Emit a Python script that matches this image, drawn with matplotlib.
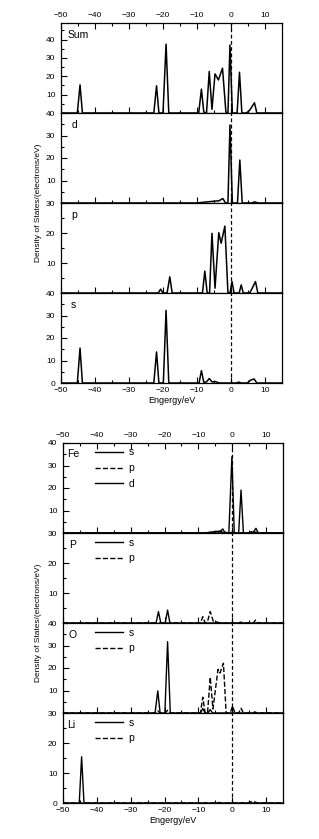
import numpy as np
import matplotlib
matplotlib.use("Agg")
import matplotlib.pyplot as plt
from matplotlib.ticker import MultipleLocator

plt.rcParams['font.family'] = ['Liberation Sans', 'DejaVu Sans']

# ---- data (energy in eV, DOS in electrons/eV) ----
# upper block: total DOS and its s / p / d parts
sum_e = [-50, -45.2, -44.4, -43.7, -22.7, -21.9, -21.2, -20.0, -19.1, -18.3,
         -9.5, -8.7, -8.0, -7.2, -6.4, -5.6, -4.7, -3.7, -2.5, -1.5, -0.9, -0.3,
         0.4, 1.8, 2.5, 3.2, 4.5, 5.5, 6.9, 7.6, 15]
sum_v = [0, 0, 15.3, 0, 0, 14.8, 0, 0, 37.5, 0,
         0, 13.0, 0.5, 0, 22.6, 2.0, 21.3, 18.0, 24.4, 0.5, 0, 37.0,
         0, 0, 22.2, 0, 0, 1.5, 5.6, 0, 0]

d_e = [-50, -10, -7, -5, -3.5, -2.4, -1.6, -0.9, -0.3, 0.4, 1.9, 2.6, 3.3, 6, 7, 8, 15]
d_v = [0, 0, 0.5, 0.8, 1.0, 2.0, 0, 0, 34.7, 0, 0, 19.1, 0, 0, 0.5, 0, 0]

p_e = [-50, -21.4, -20.7, -20.0, -18.8, -18.0, -17.3, -8.4, -7.7, -7.0, -6.3,
       -5.6, -4.7, -3.6, -2.9, -1.8, -0.9, -0.3, 0.3, 0.9, 2.4, 3.0, 3.6,
       5.5, 6.2, 7.2, 7.9, 15]
p_v = [0, 0, 1.3, 0, 0, 5.4, 0, 0, 7.3, 0, 0,
       19.9, 1.6, 20.1, 16.6, 22.3, 0, 0, 3.8, 0, 0, 2.7, 0,
       0, 1.5, 3.8, 0, 0]

s_e = [-50, -45.2, -44.4, -43.7, -22.7, -21.9, -21.2, -19.9, -19.1, -18.3,
       -9.4, -8.7, -8.0, -7.2, -6.4, -5.6, -4.5, -3.5, 1.5, 2.3, 3.0,
       4.8, 5.8, 6.8, 7.6, 15]
s_v = [0, 0, 15.5, 0, 0, 13.8, 0, 0, 32.3, 0,
       0, 5.5, 0.3, 0.5, 2.0, 0.5, 0.6, 0, 0, 0.4, 0,
       0, 1.3, 1.8, 0, 0]

# lower block: partial DOS per element
fe_s_e = [-50, -3, -2, -1, 0.2, 1, 15]
fe_s_v = [0, 0, 0.3, 0, 0.4, 0, 0]
fe_p_e = [-50, -6, -4.5, -3, -1.5, 5, 6.5, 8, 15]
fe_p_v = [0, 0, 0.5, 0.6, 0, 0, 0.5, 0, 0]
fe_d_e = [-50, -8, -6.5, -5, -4, -3.5, -2.8, -2.1, -1.0, -0.1, 0.6, 1.9, 2.6,
          3.3, 5.0, 5.6, 6.2, 7.0, 7.7, 15]
fe_d_v = [0, 0, 0.4, 0.6, 0.8, 0.9, 1.8, 0, 0, 33.9, 0, 0, 19.1,
          0, 0, 0.6, 0.3, 2.1, 0, 0]

p_s_e = [-50, -22.5, -21.8, -21.1, -19.8, -19.1, -18.4, 15]
p_s_v = [0, 0, 3.8, 0, 0, 4.3, 0, 0]
p_p_e = [-50, -9.4, -8.7, -8.0, -7.3, -6.5, -5.6, -4.8, -3.5, 1.8, 2.5, 3.2,
         6.2, 6.9, 7.6, 15]
p_p_v = [0, 0, 2.1, 0, 0.5, 3.8, 0.6, 0.4, 0, 0, 0.3, 0,
         0, 1.0, 0, 0]

o_s_e = [-50, -22.8, -22.0, -21.3, -19.9, -19.1, -18.3, -9.4, -8.7, -8.0,
         -7.2, -6.5, -5.8, 15]
o_s_v = [0, 0, 9.8, 0, 0, 31.7, 0, 0, 2.0, 0,
         0, 1.5, 0, 0]
o_p_e = [-50, -22.6, -22.0, -21.4, -19.8, -19.1, -18.4, -9.4, -8.7, -8.0,
         -7.3, -6.5, -5.7, -4.2, -3.6, -2.6, -1.8, -0.6, 0.1, 0.8, 1.9, 2.6,
         3.3, 6.0, 6.7, 7.4, 15]
o_p_v = [0, 0, 1.0, 0, 0, 1.2, 0, 0, 7.0, 0,
         0, 15.9, 1.8, 19.4, 17.8, 22.1, 0, 0, 3.1, 0, 0, 2.1,
         0, 0, 0.5, 0, 0]

li_s_e = [-50, -45.2, -44.5, -43.8, 15]
li_s_v = [0, 0, 15.4, 0, 0]
li_p_e = [-50, -4.8, -4.0, -3.2, 4.5, 5.5, 6.5, 7.5, 15]
li_p_v = [0, 0, 0.2, 0, 0, 0.4, 0.4, 0, 0]

upper_names = ['Sum', 'd', 'p', 's']
upper_lims = [49, 40, 30, 40]
lower_names = ['Fe', 'P', 'O', 'Li']
lower_lims = [40, 30, 40, 30]

fig = plt.figure(figsize=(3.19, 8.39), dpi=100)
W, H = 319, 839


def make_axes(left, right, top, bottom):
    # four stacked panels, first one on top
    axes = []
    h = (bottom - top) / 4
    for i in range(4):
        y_top = top + i * h
        ax = fig.add_axes([left / W, 1 - (y_top + h) / H, (right - left) / W, h / H])
        axes.append(ax)
    return axes


def style(ax, ymax, first, last, name, nx):
    ax.set_xlim(-50, 15)
    ax.xaxis.set_major_locator(MultipleLocator(10))
    ax.xaxis.set_minor_locator(MultipleLocator(5))
    ax.yaxis.set_minor_locator(MultipleLocator(5))
    ticks = list(range(0, int(ymax) + 1, 10))
    ax.set_yticks(ticks)
    if last:
        ax.set_yticklabels(['%d' % t for t in ticks])
    else:
        ax.set_yticklabels(['' if t == 0 else '%d' % t for t in ticks])
    ax.set_ylim(0, ymax)
    ax.tick_params(which='both', direction='in', labelsize=6, pad=3,
                   top=first, labeltop=first, bottom=True, labelbottom=last,
                   right=False)
    ax.tick_params(axis='y', pad=4)
    ax.tick_params(which='major', length=4, width=0.8)
    ax.tick_params(which='minor', length=2, width=0.8)
    for s in ax.spines.values():
        s.set_linewidth(0.9)
    ax.axvline(0, color='black', lw=0.9, ls=(0, (3, 2)))
    ax.text(nx, 1 - 11.5 / 90, name, transform=ax.transAxes,
            ha='left', va='center', fontsize=7.5)
    if last:
        ax.set_xlabel('Engergy/eV', fontsize=6.5, labelpad=1)


# ---- upper block ----
up = make_axes(61, 282, 23, 383)
up_data = [(sum_e, sum_v), (d_e, d_v), (p_e, p_v), (s_e, s_v)]
up_nx = [0.03, 0.05, 0.045, 0.045]
for i, ax in enumerate(up):
    e, v = up_data[i]
    ax.plot(e, v, color='black', lw=1.1)
    style(ax, upper_lims[i], i == 0, i == 3, upper_names[i], up_nx[i])
fig.text(38 / W, 1 - 203 / H, 'Density of States/(electrons/eV)',
         rotation=90, ha='center', va='center', fontsize=6)

# ---- lower block ----
lo = make_axes(63, 283, 443, 803)
lo_curves = [
    [(fe_s_e, fe_s_v, '-', 's'), (fe_p_e, fe_p_v, '--', 'p'), (fe_d_e, fe_d_v, '-', 'd')],
    [(p_s_e, p_s_v, '-', 's'), (p_p_e, p_p_v, '--', 'p')],
    [(o_s_e, o_s_v, '-', 's'), (o_p_e, o_p_v, '--', 'p')],
    [(li_s_e, li_s_v, '-', 's'), (li_p_e, li_p_v, '--', 'p')],
]
lo_nx = [0.017, 0.027, 0.023, 0.02]
for i, ax in enumerate(lo):
    for e, v, ls, lab in lo_curves[i]:
        ax.plot(e, v, color='black', lw=1.0, ls=ls, label=lab)
    style(ax, lower_lims[i], i == 0, i == 3, lower_names[i], lo_nx[i])
    ax.legend(loc='upper left', bbox_to_anchor=(0.145, 0.95), frameon=False,
              fontsize=7.5, handlelength=2.7, handletextpad=0.5,
              labelspacing=0.55, borderpad=0, borderaxespad=0)
fig.text(38 / W, 1 - 623 / H, 'Density of States/(electrons/eV)',
         rotation=90, ha='center', va='center', fontsize=6)

fig.savefig('out.png', dpi=100)
